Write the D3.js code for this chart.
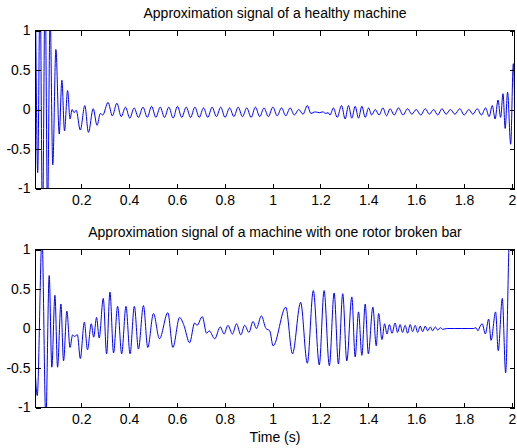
<!DOCTYPE html>
<html>
<head>
<meta charset="utf-8">
<script src="https://cdnjs.cloudflare.com/ajax/libs/d3/7.8.5/d3.min.js"></script>
<style>
  body { margin: 0; background: #fff; }
  text { font-family: Arial, "Liberation Sans", Helvetica, sans-serif; fill: #000; }
</style>
</head>
<body>
<div id="signals"></div>
<script>
// Extrema of the approximation signals (time in s)
const healthyTime = [
  0.009, 0.018, 0.028, 0.038, 0.049, 0.059, 0.070, 0.081, 0.094, 0.108,
  0.119, 0.130, 0.143, 0.153, 0.162, 0.170, 0.179, 0.196, 0.215, 0.230,
  0.250, 0.266, 0.280, 0.290, 0.312, 0.330, 0.349, 0.367, 0.385, 0.403,
  0.421, 0.439, 0.458, 0.476, 0.494, 0.512, 0.530, 0.548, 0.566, 0.584,
  0.602, 0.620, 0.639, 0.657, 0.675, 0.693, 0.711, 0.729, 0.747, 0.765,
  0.783, 0.801, 0.820, 0.838, 0.856, 0.874, 0.892, 0.910, 0.928, 0.946,
  0.964, 0.982, 1.001, 1.019, 1.037, 1.055, 1.073, 1.091, 1.109, 1.127,
  1.145, 1.160, 1.178, 1.195, 1.210, 1.222, 1.232, 1.240, 1.254, 1.270,
  1.288, 1.303, 1.317, 1.331, 1.345, 1.359, 1.373, 1.387, 1.401, 1.414,
  1.429, 1.445, 1.461, 1.476, 1.491, 1.508, 1.526, 1.545, 1.564, 1.582,
  1.600, 1.619, 1.638, 1.655, 1.673, 1.690, 1.708, 1.725, 1.743, 1.762,
  1.782, 1.801, 1.820, 1.837, 1.855, 1.873, 1.890, 1.905, 1.918, 1.930,
  1.942, 1.953, 1.963, 1.972, 1.982, 1.995, 2.006, 2.011
]
const healthyValue = [
  1.4, -0.8, 1.6, -1.5, 1.6, -1.3, 1.2, -0.70, 0.76, -0.31,
  0.37, -0.27, 0.24, -0.12, 0.00, -0.04, -0.01, -0.26, 0.05, -0.29,
  0.01, -0.20, -0.05, -0.07, 0.09, -0.08, 0.08, -0.09, 0.03, -0.11,
  0.02, -0.10, 0.03, -0.10, 0.04, -0.10, 0.03, -0.10, 0.03, -0.11,
  0.04, -0.10, 0.03, -0.10, 0.03, -0.10, 0.02, -0.10, 0.03, -0.09,
  0.03, -0.10, 0.02, -0.09, 0.03, -0.09, 0.02, -0.10, 0.03, -0.09,
  0.02, -0.09, 0.03, -0.08, 0.02, -0.08, 0.02, -0.07, 0.00, -0.06,
  0.05, -0.05, -0.03, -0.04, -0.03, -0.05, -0.04, -0.07, 0.02, -0.10,
  0.05, -0.12, 0.05, -0.11, 0.04, -0.11, 0.04, -0.10, 0.02, -0.07,
  0.00, -0.07, 0.02, -0.08, 0.01, -0.07, 0.02, -0.07, 0.01, -0.06,
  0.00, -0.07, 0.01, -0.06, 0.00, -0.07, 0.01, -0.06, 0.00, -0.06,
  0.01, -0.07, 0.00, -0.06, 0.01, -0.07, 0.02, -0.09, 0.05, -0.12,
  0.12, -0.10, 0.20, -0.24, 0.22, -0.44, 0.58, 0.20
]

const brokenTime = [
  0.009, 0.016, 0.036, 0.052, 0.066, 0.077, 0.090, 0.101, 0.115, 0.126,
  0.140, 0.153, 0.164, 0.171, 0.184, 0.196, 0.213, 0.226, 0.242, 0.252,
  0.264, 0.275, 0.292, 0.306, 0.320, 0.335, 0.352, 0.369, 0.387, 0.404,
  0.422, 0.439, 0.460, 0.478, 0.502, 0.527, 0.562, 0.583, 0.611, 0.628,
  0.653, 0.674, 0.684, 0.706, 0.724, 0.735, 0.758, 0.781, 0.797, 0.813,
  0.832, 0.849, 0.867, 0.883, 0.901, 0.918, 0.932, 0.953, 0.972, 0.988,
  1.002, 1.055, 1.083, 1.117, 1.145, 1.170, 1.195, 1.215, 1.237, 1.257,
  1.275, 1.293, 1.310, 1.331, 1.345, 1.359, 1.373, 1.387, 1.400, 1.419,
  1.433, 1.443, 1.457, 1.468, 1.478, 1.488, 1.499, 1.512, 1.522, 1.533,
  1.543, 1.554, 1.564, 1.575, 1.585, 1.596, 1.606, 1.617, 1.627, 1.638,
  1.648, 1.659, 1.669, 1.680, 1.690, 1.701, 1.711, 1.730, 1.760, 1.790,
  1.820, 1.840, 1.850, 1.858, 1.866, 1.876, 1.889, 1.903, 1.913, 1.932,
  1.943, 1.960, 1.974, 1.990, 2.011
]
const brokenValue = [
  -0.62, -0.85, 1.15, -1.15, 0.67, -0.49, 0.42, -0.49, 0.31, -0.41,
  0.22, -0.24, -0.08, -0.10, -0.08, -0.38, 0.08, -0.27, 0.06, -0.11,
  0.14, -0.12, 0.38, -0.32, 0.46, -0.31, 0.28, -0.32, 0.28, -0.32,
  0.28, -0.26, 0.29, -0.24, 0.19, -0.13, 0.20, -0.24, 0.14, 0.05,
  -0.18, 0.07, 0.04, 0.15, -0.06, -0.03, -0.13, 0.02, -0.07, 0.04,
  -0.07, 0.06, -0.08, 0.04, -0.05, 0.09, 0.00, 0.16, 0.00, -0.03,
  -0.22, 0.27, -0.32, 0.33, -0.44, 0.48, -0.46, 0.48, -0.47, 0.45,
  -0.45, 0.44, -0.41, 0.40, -0.36, 0.21, -0.34, 0.31, -0.32, 0.27,
  -0.22, 0.19, -0.14, 0.06, -0.07, 0.05, -0.06, 0.07, -0.05, 0.05,
  -0.05, 0.04, -0.06, 0.05, -0.04, 0.04, -0.05, 0.03, -0.04, 0.03,
  -0.03, 0.02, -0.03, 0.02, -0.02, 0.01, -0.01, 0.00, 0.00, 0.00,
  0.00, 0.00, 0.01, -0.03, 0.02, 0.06, -0.07, 0.12, -0.15, 0.21,
  -0.28, 0.38, -0.56, 1.20, 1.60
]

const xTicks = [0.2, 0.4, 0.6, 0.8, 1, 1.2, 1.4, 1.6, 1.8, 2]
const yTicks = [-1, -0.5, 0, 0.5, 1]
const titles = [
  "Approximation signal of a healthy machine",
  "Approximation signal of a machine with one rotor broken bar",
]

function drawSignals() {
  // Define Dimensions
  let dimensions = {
    width: 517,
    height: 448,
    left: 35.5,
    right: 514.5,
    panelHeight: 158,
    panelTops: [30.5, 249.5],
    tickSize: 5,
  }

  // Draw Canvas
  const svg = d3.select("#signals")
    .append("svg")
      .attr("width", dimensions.width)
      .attr("height", dimensions.height)

  // Scales shared by both panels
  const xScale = d3.scaleLinear()
    .domain([0.0088, 2.011])
    .range([dimensions.left, dimensions.right])

  const lineGenerator = (yScale) => d3.line()
    .x(d => xScale(d[0]))
    .y(d => yScale(d[1]))
    .curve(d3.curveMonotoneX)

  const series = [
    d3.zip(healthyTime, healthyValue),
    d3.zip(brokenTime, brokenValue),
  ]

  series.forEach((data, i) => {
    const top = dimensions.panelTops[i]
    const bottom = top + dimensions.panelHeight

    const yScale = d3.scaleLinear()
      .domain([-1, 1])
      .range([bottom, top])

    const panel = svg.append("g")

    // clip the signal to the axes box
    panel.append("clipPath")
        .attr("id", `clip-${i}`)
      .append("rect")
        .attr("x", dimensions.left)
        .attr("y", top)
        .attr("width", dimensions.right - dimensions.left)
        .attr("height", dimensions.panelHeight)

    panel.append("path")
      .attr("d", lineGenerator(yScale)(data))
      .attr("clip-path", `url(#clip-${i})`)
      .attr("fill", "none")
      .attr("stroke", "#0000ff")
      .attr("stroke-width", 1)

    // Axes (ticks point inward on all four sides)
    const fmt = d => String(d)

    const xAxisBottom = panel.append("g")
      .attr("transform", `translate(0, ${bottom})`)
      .call(d3.axisBottom(xScale)
        .tickValues(xTicks)
        .tickFormat(fmt)
        .tickSizeInner(-dimensions.tickSize)
        .tickSizeOuter(0)
        .tickPadding(6.5))
    const xAxisTop = panel.append("g")
      .attr("transform", `translate(0, ${top})`)
      .call(d3.axisTop(xScale)
        .tickValues(xTicks)
        .tickFormat("")
        .tickSizeInner(-dimensions.tickSize)
        .tickSizeOuter(0))
    const yAxisLeft = panel.append("g")
      .attr("transform", `translate(${dimensions.left}, 0)`)
      .call(d3.axisLeft(yScale)
        .tickValues(yTicks)
        .tickFormat(fmt)
        .tickSizeInner(-dimensions.tickSize)
        .tickSizeOuter(0)
        .tickPadding(5))
    const yAxisRight = panel.append("g")
      .attr("transform", `translate(${dimensions.right}, 0)`)
      .call(d3.axisRight(yScale)
        .tickValues(yTicks)
        .tickFormat("")
        .tickSizeInner(-dimensions.tickSize)
        .tickSizeOuter(0))

    panel.selectAll(".domain").remove()
    panel.selectAll(".tick line")
      .attr("stroke", "#000")
      .attr("shape-rendering", "crispEdges")
    panel.selectAll(".tick text")
      .attr("fill", "#000")
      .style("font-size", "14px")
      .style("font-family", "Arial, 'Liberation Sans', sans-serif")

    panel.append("rect")
      .attr("x", dimensions.left)
      .attr("y", top)
      .attr("width", dimensions.right - dimensions.left)
      .attr("height", dimensions.panelHeight)
      .attr("fill", "none")
      .attr("stroke", "#000")
      .attr("shape-rendering", "crispEdges")

    // Title
    panel.append("text")
      .attr("x", (dimensions.left + dimensions.right) / 2)
      .attr("y", top - 13)
      .attr("text-anchor", "middle")
      .style("font-size", "14px")
      .text(titles[i])
  })

  // x label under the lower panel
  svg.append("text")
    .attr("x", (dimensions.left + dimensions.right) / 2)
    .attr("y", 442)
    .attr("text-anchor", "middle")
    .style("font-size", "14px")
    .text("Time (s)")
}

drawSignals()
</script>
</body>
</html>
